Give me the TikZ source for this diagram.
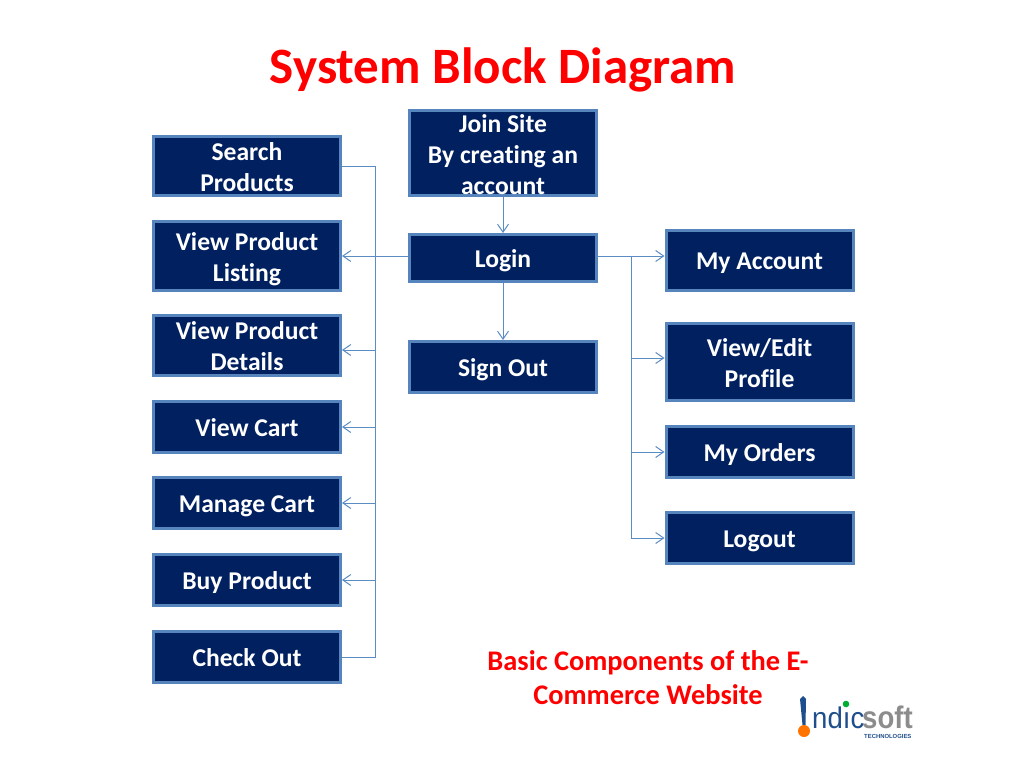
\documentclass[tikz,border=0pt]{standalone}
\usepackage{fontspec}
\setmainfont{Carlito}[Ligatures=NoCommon]
\newfontfamily\logofont{Liberation Sans}
\usepackage{tikz}
\usetikzlibrary{arrows.meta}
\definecolor{boxfill}{HTML}{002060}
\definecolor{boxline}{HTML}{5585BC}
\definecolor{linkline}{HTML}{5C8CC4}
\definecolor{logoblue}{HTML}{1F4E8C}

\begin{document}
\begin{tikzpicture}[
        x=1pt, y=-1pt,
        blk/.style={draw=boxline, line width=3pt, fill=boxfill, text=white, align=center,
          minimum width=187pt, inner sep=0pt, font=\bfseries\fontsize{25.6}{31}\selectfont,
          text height=#1, text depth=0pt},
        blk/.default=18pt,
        link/.style={draw=linkline, line width=1pt},
        arr/.style={link, -{Straight Barb[length=8pt, width=11pt, line width=1pt]}},
        redtext/.style={text=red, align=center, font=\bfseries}
      ]
      \useasboundingbox (0,0) rectangle (1024,768);
      \node[redtext, font=\bfseries\fontsize{51}{60}\selectfont] (title) at (503,70) {System Block Diagram};
      % left column
      \node[blk=50pt, minimum height=59pt] (search) at (247,166) {Search\\Products};
      \node[blk=50pt, minimum height=69pt] (listing) at (247,256) {View Product\\Listing};
      \node[blk=50pt, minimum height=60pt] (details) at (247,345.5) {View Product\\Details};
      \node[blk, minimum height=51pt] (cart) at (247,427) {View Cart};
      \node[blk, minimum height=51pt] (manage) at (247,503) {Manage Cart};
      \node[blk, minimum height=51pt] (buy) at (247,580) {Buy Product};
      \node[blk, minimum height=51pt] (checkout) at (247,657) {Check Out};
      % middle column
      \node[blk=82pt, minimum height=85pt] (join) at (503,153) {Join Site\\By creating an\\account};
      \node[blk, minimum height=47pt] (login) at (503,258) {Login};
      \node[blk, minimum height=51pt] (signout) at (503,367) {Sign Out};
      % right column
      \node[blk, minimum height=60pt] (account) at (759.5,260.5) {My Account};
      \node[blk=50pt, minimum height=77pt] (profile) at (759.5,362) {View/Edit\\Profile};
      \node[blk, minimum height=51pt] (orders) at (759.5,452) {My Orders};
      \node[blk, minimum height=51pt] (logout) at (759.5,538) {Logout};
      \node[redtext, font=\bfseries\fontsize{28.4}{34}\selectfont] (basic) at (648,678) {Basic Components of the E-\\Commerce Website};
      % junctions on the two rails
      \coordinate (ltop) at (375,166);
      \coordinate (lgn) at (375,256);
      \coordinate (ldet) at (375,350);
      \coordinate (lcart) at (375,427);
      \coordinate (lman) at (375,503);
      \coordinate (lbuy) at (375,580);
      \coordinate (lend) at (375,657);
      \coordinate (rgn) at (631,256);
      \coordinate (rpro) at (631,358);
      \coordinate (rord) at (631,452);
      \coordinate (rend) at (631,538);
      \draw[link] (ltop -| search.east) -- (ltop) -- (lend) -- (lend -| checkout.east);
      \draw[arr] (lgn -| login.west) -- (lgn -| listing.east);
      \draw[arr] (ldet) -- (ldet -| details.east);
      \draw[arr] (lcart) -- (lcart -| cart.east);
      \draw[arr] (lman) -- (lman -| manage.east);
      \draw[arr] (lbuy) -- (lbuy -| buy.east);
      \draw[arr] (join) -- (login);
      \draw[arr] (login) -- (signout);
      \draw[arr] (rgn -| login.east) -- (rgn -| account.west);
      \draw[link] (rgn) -- (rend);
      \draw[arr] (rpro) -- (rpro -| profile.west);
      \draw[arr] (rord) -- (rord -| orders.west);
      \draw[arr] (rend) -- (rend -| logout.west);
      % logo
      \fill[logoblue] (800,699) -- (803,696) -- (806,699) -- (805.5,725) -- (802.5,725) -- cycle;
      \fill[orange!90!red] (804,731) circle (6pt);
      \node[inner sep=0pt, anchor=base west, text=logoblue, xscale=1.06, yscale=1.15, font=\logofont\fontsize{26}{26}\selectfont] (ndic) at (812,728) {ndıc};
      \fill[green!60!black!80!cyan] (846,704) circle (3.3pt);
      \node[inner sep=0pt, anchor=base west, text=black!45, xscale=1.06, yscale=1.2, font=\logofont\bfseries\fontsize{26}{26}\selectfont] (soft) at (862,728) {soft};
      \node[inner sep=0pt, anchor=base west, text=logoblue, font=\logofont\bfseries\fontsize{5.9}{6}\selectfont] (tech) at (864,738) {TECHNOLOGIES};
    \end{tikzpicture}
\end{document}
